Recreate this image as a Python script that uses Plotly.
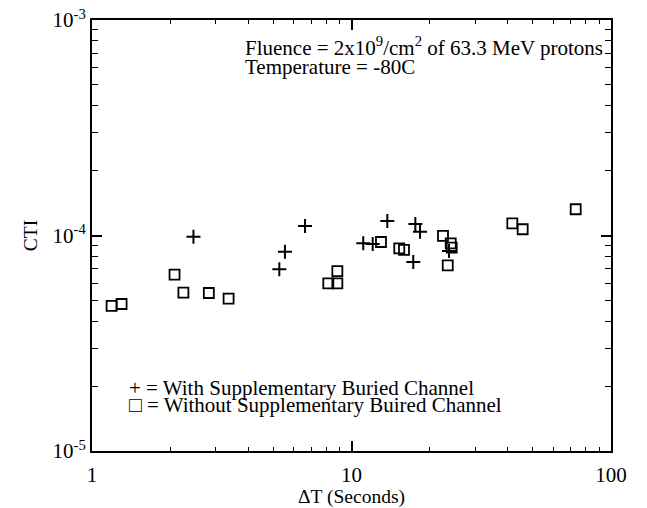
import numpy as np
import plotly.graph_objects as go

# CTI vs. delay time, with and without the supplementary buried channel
dt_with = [2.46, 5.27, 5.54, 6.62, 11.1, 12.07, 13.74, 17.3, 17.62, 18.37, 23.75]
cti_with = [9.87e-5, 6.97e-5, 8.41e-5, 1.107e-4, 9.20e-5, 9.13e-5, 1.167e-4,
            7.53e-5, 1.131e-4, 1.041e-4, 8.47e-5]

dt_without = [1.19, 1.30, 2.08, 2.25, 2.82, 3.36, 8.14, 8.82, 8.82, 12.99,
              15.28, 15.93, 22.52, 24.12, 24.33, 23.49, 41.66, 45.67, 73.1]
cti_without = [4.71e-5, 4.81e-5, 6.58e-5, 5.43e-5, 5.41e-5, 5.09e-5, 6.0e-5,
               6.0e-5, 6.84e-5, 9.33e-5, 8.72e-5, 8.57e-5, 9.95e-5, 9.20e-5,
               8.78e-5, 7.27e-5, 1.139e-4, 1.069e-4, 1.324e-4]

x_ticks = [1, 10, 100]
x_tick_text = ["1", "10", "100"]
y_ticks = [1e-5, 1e-4, 1e-3]
y_tick_text = ["10<sup>-5</sup>", "10<sup>-4</sup>", "10<sup>-3</sup>"]

x_minor = [m * d for d in (1, 10) for m in range(2, 10)]
y_minor = [m * d for d in (1e-5, 1e-4) for m in range(2, 10)]

FONT = "Liberation Serif, Times New Roman, serif"

fig = go.Figure()
fig.add_trace(go.Scatter(
    x=dt_with, y=cti_with, mode="markers",
    marker=dict(symbol="cross-thin", size=10, line=dict(width=2, color="black"), color="black"),
    showlegend=False))
fig.add_trace(go.Scatter(
    x=dt_without, y=cti_without, mode="markers",
    marker=dict(symbol="square-open", size=10, line=dict(width=1.8, color="black"), color="black"),
    showlegend=False))

axis_common = dict(
    showgrid=False, zeroline=False, showline=True, linecolor="black", linewidth=2,
    mirror="ticks", ticks="inside", ticklen=10, tickwidth=1.5, tickcolor="black",
    tickfont=dict(family=FONT, size=21, color="black"), automargin=False,
)

fig.update_xaxes(
    type="log", range=[0, 2], tickmode="array", tickvals=x_ticks, ticktext=x_tick_text,
    ticklabelstandoff=4,
    minor=dict(tickmode="array", tickvals=x_minor, ticks="inside", ticklen=4,
               tickwidth=1, tickcolor="black", showgrid=False),
    title=dict(text="ΔT (Seconds)", font=dict(family=FONT, size=19.5, color="black"), standoff=2),
    **axis_common)
fig.update_yaxes(
    type="log", range=[-5, -3], tickmode="array", tickvals=y_ticks, ticktext=y_tick_text,
    minor=dict(tickmode="array", tickvals=y_minor, ticks="inside", ticklen=6,
               tickwidth=1, tickcolor="black", showgrid=False),
    title=dict(text="CTI", font=dict(family=FONT, size=19.5, color="black"), standoff=10),
    **axis_common)

text_font = dict(family=FONT, size=21, color="black")
notes = [
    (243, 47, "Fluence = 2x10<sup>9</sup>/cm<sup>2</sup> of 63.3 MeV protons"),
    (243, 67, "Temperature = -80C"),
    (127, 388, "+ = With Supplementary Buried Channel"),
    (127, 405, "□ = Without Supplementary Buired Channel"),
]
# Notes are placed in paper coordinates of the 647x508 canvas (plot area 92..611 x 20..451)
for px, py, txt in notes:
    fig.add_annotation(x=(px - 92) / (611 - 92), y=(451 - py) / (451 - 20),
                       xref="paper", yref="paper", xanchor="left", yanchor="middle",
                       text=txt, showarrow=False, align="left", font=text_font)

fig.update_layout(
    width=647, height=508,
    margin=dict(l=92, r=36, t=20, b=57),
    paper_bgcolor="white", plot_bgcolor="white",
    font=dict(family=FONT, color="black"),
)

fig.write_html("out.html")
